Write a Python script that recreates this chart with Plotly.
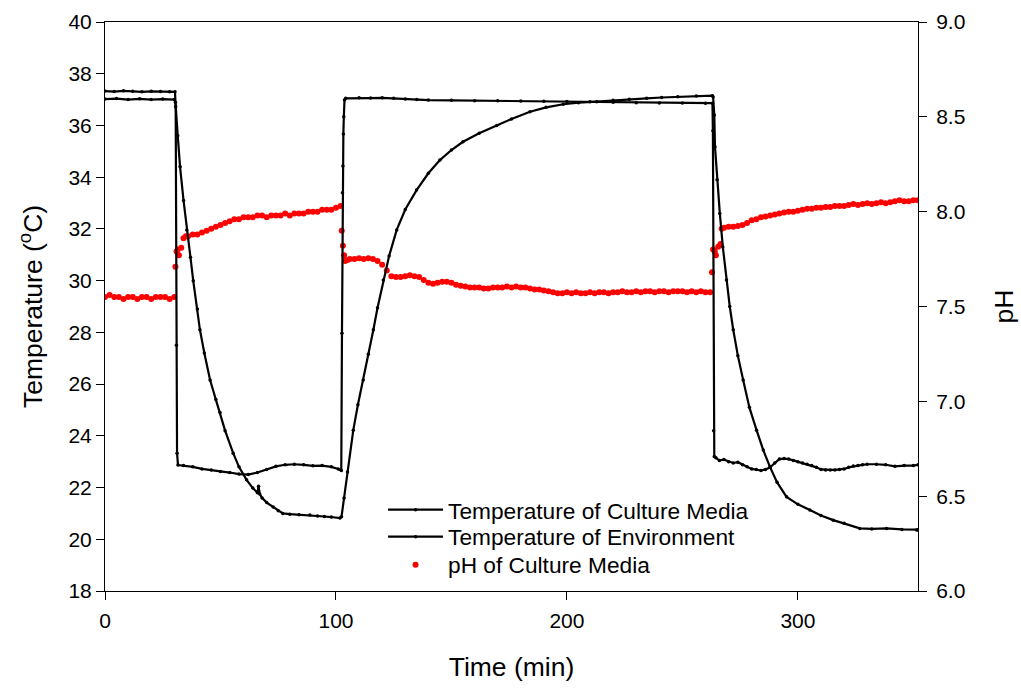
import plotly.graph_objects as go

# ---- Temperature of Culture Media (deg C) ----
media_t = [0, 5, 10, 15, 20, 25, 30, 30.5, 31.5, 32.5, 34, 35.4, 37, 38.2, 40, 41.1, 43, 45.5, 48, 49.8,
           52, 55.5, 58, 61.3, 64, 66, 66.5, 67, 68, 70, 72.8, 75, 77, 80, 84, 88.7, 92, 95, 98, 101.7,
           102.4, 103.5, 105, 107.5, 109.5, 111.8, 114, 116.2, 118, 120.5, 123, 126.3, 130, 134.9, 140,
           145, 150, 155, 162, 169.6, 176, 184, 191, 198.4, 205, 212.9, 220, 227, 234.5, 241, 248, 256,
           263, 263.3, 263.8, 264.1, 265, 266.2, 267.5, 269.1, 270.5, 272, 274, 276.3, 279, 282.1, 285,
           287.9, 291, 295.1, 300, 305.2, 310, 315.3, 320, 326.8, 332, 338.4, 345, 351.4, 352]
media_v = [37.02, 37.04, 37.0, 37.03, 37.0, 37.02, 37.0, 36.9, 35.6, 34.4, 33.1, 31.96, 30.9, 30.0, 28.9, 28.1, 27.2, 26.16, 25.4, 24.9,
           24.2, 23.33, 22.8, 22.3, 21.98, 21.8, 22.05, 21.75, 21.6, 21.42, 21.25, 21.1, 21.0, 20.97, 20.95, 20.94, 20.9, 20.88, 20.86, 20.82,
           20.87, 21.6, 22.6, 24.22, 25.2, 26.16, 27.15, 28.1, 28.95, 30.02, 30.95, 31.96, 32.75, 33.5, 34.15,
           34.66, 35.05, 35.37, 35.7, 36.0, 36.25, 36.53, 36.7, 36.82, 36.88, 36.92, 36.97, 37.01, 37.05, 37.08, 37.11, 37.14,
           37.15, 37.1, 36.4, 35.18, 33.9, 32.6, 31.3, 30.02, 29.0, 28.1, 27.1, 26.16, 25.1, 24.22, 23.45,
           22.8, 22.2, 21.64, 21.35, 21.13, 20.92, 20.74, 20.62, 20.42, 20.4, 20.42, 20.38, 20.36, 20.37]

# ---- Temperature of Environment (deg C) ----
env_t = [0, 4, 8, 12, 16, 20, 24, 28, 30.3, 30.6, 30.9, 31.2, 31.6,
         34, 38, 42, 46, 50, 54, 58, 62, 66, 70, 74, 78, 82, 86, 90, 94, 98, 101, 102.3,
         102.6, 102.8, 103.0, 103.2, 103.4, 103.7, 104.2, 110, 115, 120, 125, 130, 135, 140,
         150, 160, 170, 180, 190, 200, 210, 220, 230, 240, 250, 260,
         263.0, 263.2, 263.5, 263.8, 264.5,
         266, 268, 270, 272, 274, 276, 278, 280, 282, 284, 286, 288, 290, 292, 294, 296, 298, 300,
         302, 304, 306, 308, 310, 312, 314, 316, 318, 320, 322, 324, 326, 328, 330,
         334, 338, 342, 346, 350, 352]
env_v = [37.33, 37.31, 37.34, 37.32, 37.3, 37.32, 37.31, 37.3, 37.3, 36.72, 27.5, 23.33, 22.87,
         22.85, 22.8, 22.72, 22.68, 22.62, 22.58, 22.52, 22.5, 22.58, 22.7, 22.82, 22.88, 22.9, 22.88, 22.84, 22.85, 22.8, 22.72, 22.66,
         27.97, 33.4, 34.43, 35.67, 36.34, 36.98, 37.05, 37.07, 37.06, 37.07, 37.05, 37.02, 37.0, 36.98,
         36.97, 36.96, 36.96, 36.95, 36.94, 36.93, 36.92, 36.9, 36.88, 36.87, 36.87, 36.86,
         36.86, 35.8, 24.2, 23.2, 23.15,
         23.05, 23.08, 23.0, 22.95, 22.98, 22.88, 22.8, 22.72, 22.7, 22.66, 22.7, 22.78, 22.95, 23.1, 23.12, 23.1, 23.05, 23.0,
         22.95, 22.9, 22.85, 22.78, 22.7, 22.68, 22.68, 22.68, 22.7, 22.72, 22.78, 22.83, 22.85, 22.88, 22.9,
         22.9, 22.88, 22.82, 22.85, 22.85, 22.88]

# ---- pH of Culture Media ----
ph_t = [0, 2, 4, 6, 8, 10, 12, 14, 16, 18, 20, 22, 24, 26, 28, 30,
        30.5, 31, 31.5, 32, 33, 34, 35,
        36, 38, 40, 42, 44, 46, 48, 50, 52, 54, 56, 58, 60, 62, 64, 66, 68, 70, 72, 74, 76, 78, 80,
        82, 84, 86, 88, 90, 92, 94, 96, 98, 100, 102,
        102.5, 103, 103.5, 104, 105,
        106, 108, 110, 112, 114, 116, 118, 120, 122, 124, 126, 128, 130, 132, 134, 136, 138, 140,
        142, 144, 146, 148, 150, 152, 154, 156, 158, 160, 162, 164, 166, 168, 170, 172, 174, 176,
        178, 180, 182, 184, 186, 188, 190, 192, 194, 196, 198, 200, 202, 204, 206, 208, 210, 212,
        214, 216, 218, 220, 222, 224, 226, 228, 230, 232, 234, 236, 238, 240, 242, 244, 246, 248,
        250, 252, 254, 256, 258, 260, 262,
        262.8, 263.3, 264, 264.5, 265.5, 266.5, 267, 268,
        270, 272, 274, 276, 278, 280, 282, 284, 286, 288, 290, 292, 294, 296, 298, 300, 302, 304,
        306, 308, 310, 312, 314, 316, 318, 320, 322, 324, 326, 328, 330, 332, 334, 336, 338, 340,
        342, 344, 346, 348, 350, 352]
ph_v = [7.55, 7.56, 7.55, 7.55, 7.54, 7.55, 7.55, 7.54, 7.55, 7.55, 7.54, 7.55, 7.55, 7.55, 7.54, 7.55,
        7.71, 7.79, 7.80, 7.77, 7.81, 7.86, 7.87,
        7.87, 7.88, 7.88, 7.89, 7.90, 7.91, 7.92, 7.93, 7.94, 7.95, 7.96, 7.96, 7.97, 7.97, 7.97, 7.98, 7.98, 7.97, 7.98, 7.98, 7.98, 7.99, 7.98,
        7.99, 7.99, 7.99, 8.00, 8.00, 8.00, 8.01, 8.01, 8.01, 8.02, 8.03,
        7.90, 7.82, 7.77, 7.74, 7.745,
        7.75, 7.75, 7.755, 7.75, 7.755, 7.75, 7.74, 7.72, 7.69, 7.66, 7.655, 7.655, 7.66, 7.665, 7.66, 7.655, 7.64, 7.625,
        7.62, 7.625, 7.63, 7.63, 7.625, 7.615, 7.61, 7.605, 7.60, 7.60, 7.60, 7.595, 7.595, 7.60, 7.60, 7.60, 7.605, 7.60,
        7.605, 7.60, 7.60, 7.595, 7.59, 7.59, 7.585, 7.58, 7.575, 7.57, 7.57, 7.575, 7.57, 7.575, 7.57, 7.57, 7.575, 7.57,
        7.575, 7.575, 7.57, 7.575, 7.575, 7.58, 7.575, 7.575, 7.58, 7.575, 7.58, 7.58, 7.575, 7.58, 7.58, 7.575, 7.58, 7.58,
        7.58, 7.575, 7.58, 7.575, 7.58, 7.575, 7.575,
        7.68, 7.80, 7.79, 7.77, 7.815, 7.83, 7.91, 7.915,
        7.92, 7.92, 7.925, 7.93, 7.94, 7.955, 7.96, 7.97, 7.975, 7.98, 7.985, 7.99, 7.995, 8.0, 8.0, 8.005, 8.01, 8.015,
        8.015, 8.02, 8.02, 8.025, 8.025, 8.03, 8.03, 8.03, 8.035, 8.04, 8.035, 8.04, 8.045, 8.04, 8.045, 8.05, 8.045, 8.05,
        8.055, 8.06, 8.055, 8.055, 8.06, 8.06]

x_ticks = [0, 100, 200, 300]
temp_ticks = [18, 20, 22, 24, 26, 28, 30, 32, 34, 36, 38, 40]
ph_ticks = [6.0, 6.5, 7.0, 7.5, 8.0, 8.5, 9.0]

FONT = "Arial, 'Liberation Sans', sans-serif"

fig = go.Figure()
fig.add_trace(go.Scatter(x=media_t, y=media_v, name="Temperature of Culture Media", yaxis="y2",
                         legend="legend",
                         mode="lines+markers", line=dict(color="black", width=2.2),
                         marker=dict(color="black", size=3.5)))
fig.add_trace(go.Scatter(x=env_t, y=env_v, name="Temperature of Environment", yaxis="y2",
                         legend="legend2",
                         mode="lines+markers", line=dict(color="black", width=2.2),
                         marker=dict(color="black", size=3.5)))
fig.add_trace(go.Scatter(x=ph_t, y=ph_v, name="pH of Culture Media", yaxis="y",
                         legend="legend3",
                         mode="markers", marker=dict(color="#ff0000", size=6)))

axis_common = dict(showline=True, linecolor="black", linewidth=1, ticks="outside", ticklen=8,
                   tickcolor="black", showgrid=False, zeroline=False, automargin=False,
                   tickfont=dict(family=FONT, size=21, color="black"))

legend_common = dict(x=0.342, xanchor="left", yanchor="top", bgcolor="rgba(0,0,0,0)",
                     font=dict(family=FONT, size=22.7, color="black"), itemwidth=55)

fig.update_layout(
    width=1021, height=688,
    margin=dict(l=105, r=103, t=22, b=97),
    paper_bgcolor="white", plot_bgcolor="white",
    font=dict(family=FONT, color="black"),
    xaxis=dict(range=[0, 352], tickvals=x_ticks, mirror=True, ticklabelstandoff=3,
               title=dict(text="Time (min)", font=dict(family=FONT, size=26.5), standoff=26),
               **axis_common),
    yaxis=dict(range=[6.0, 9.0], tickvals=ph_ticks, tickformat=".1f", side="right",
               ticklabelstandoff=5,
               title=dict(text="pH", font=dict(family=FONT, size=26.5), standoff=30),
               **axis_common),
    yaxis2=dict(range=[18, 40], tickvals=temp_ticks, side="left", overlaying="y",
                title=dict(text="Temperature (<sup>o</sup>C)", font=dict(family=FONT, size=26.5), standoff=18),
                **axis_common),
    legend=dict(y=0.1803, **legend_common),
    legend2=dict(y=0.1329, **legend_common),
    legend3=dict(y=0.0837, **legend_common),
    showlegend=True,
)

fig.write_html("out.html")
